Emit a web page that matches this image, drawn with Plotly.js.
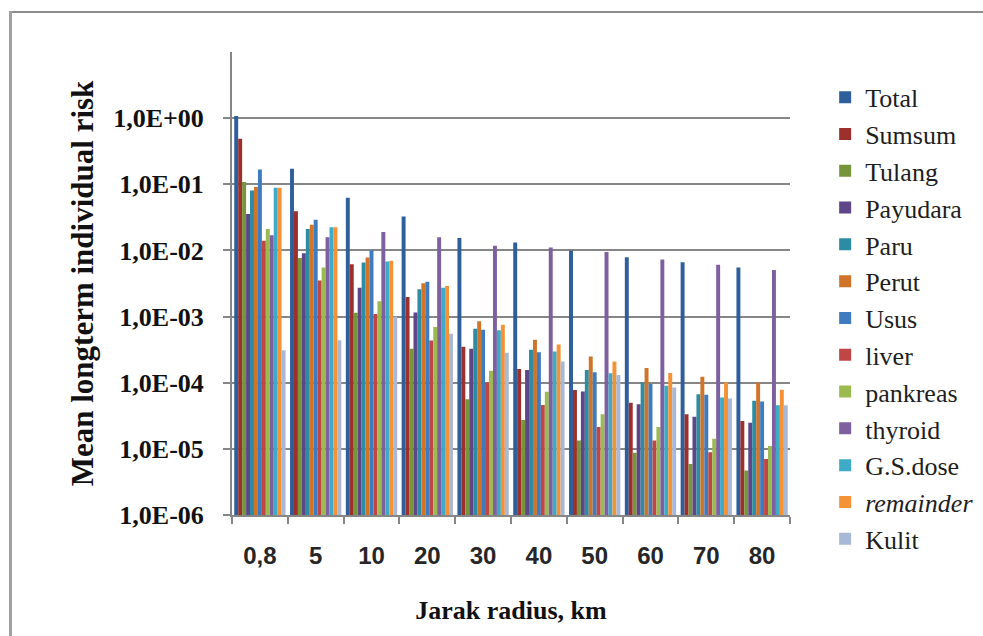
<!DOCTYPE html>
<html>
<head>
<meta charset="utf-8">
<script src="https://cdn.plot.ly/plotly-3.0.1.min.js"></script>
<style>
  html, body { margin: 0; padding: 0; background: #fff; }
  #wrap { position: relative; width: 983px; height: 636px; }
  #chart { position: absolute; left: 0; top: 0; width: 983px; height: 636px; }
  #bt { position: absolute; left: 9px; top: 11px; width: 974px; height: 2px; background: #8c8c8c; }
  #bl { position: absolute; left: 9px; top: 11px; width: 3px; height: 625px; background: #a0a0a0; }
</style>
</head>
<body>
<div id="wrap">
  <div id="chart"></div>
  <div id="bt"></div>
  <div id="bl"></div>
</div>
<script>
const categories = ["0,8", "5", "10", "20", "30", "40", "50", "60", "70", "80"];

const seriesNames = ["Total", "Sumsum", "Tulang", "Payudara", "Paru", "Perut", "Usus",
  "liver", "pankreas", "thyroid", "G.S.dose", "<i>remainder</i>", "Kulit"];

const total     = [1.08, 0.172, 0.0627, 0.0326, 0.0154, 0.0132, 0.0100, 0.0079, 0.0066, 0.0055];
const sumsum    = [0.49, 0.039, 0.0062, 0.00197, 0.000349, 0.000161, 0.0000773, 0.000050, 0.0000334, 0.0000264];
const tulang    = [0.108, 0.00765, 0.00114, 0.000326, 0.0000564, 0.0000273, 0.0000134, 0.0000087, 0.0000059, 0.0000047];
const payudara  = [0.0356, 0.0091, 0.00273, 0.00115, 0.000326, 0.000156, 0.0000738, 0.0000473, 0.0000307, 0.0000249];
const paru      = [0.0805, 0.021, 0.00656, 0.00258, 0.000656, 0.000314, 0.000156, 0.000101, 0.0000671, 0.0000532];
const perut     = [0.0906, 0.0245, 0.00782, 0.00318, 0.00085, 0.000447, 0.000249, 0.000167, 0.000123, 0.000101];
const usus      = [0.168, 0.0292, 0.0101, 0.00337, 0.000634, 0.00029, 0.000144, 0.0000955, 0.0000656, 0.000052];
const liver     = [0.014, 0.0035, 0.00109, 0.000436, 0.000101, 0.0000462, 0.0000214, 0.0000134, 0.0000089, 0.00000705];
const pankreas  = [0.0211, 0.0055, 0.00171, 0.000697, 0.000152, 0.000073, 0.0000334, 0.0000214, 0.0000142, 0.000011];
const thyroid   = [0.0169, 0.0158, 0.019, 0.0158, 0.0118, 0.0111, 0.00944, 0.0073, 0.00605, 0.00508];
const gsdose    = [0.0885, 0.0224, 0.0068, 0.00273, 0.00062, 0.000296, 0.000139, 0.00009, 0.0000598, 0.0000457];
const remainder = [0.0885, 0.0224, 0.00697, 0.0029, 0.000755, 0.000379, 0.000209, 0.00014, 0.000101, 0.0000782];
const kulit     = [0.00031, 0.00044, 0.00099, 0.00055, 0.000283, 0.000209, 0.000131, 0.0000849, 0.0000577, 0.0000457];

const yTickVals = [1e-6, 1e-5, 1e-4, 1e-3, 1e-2, 1e-1, 1];
const yTickText = ["1,0E-06", "1,0E-05", "1,0E-04", "1,0E-03", "1,0E-02", "1,0E-01", "1,0E+00"];

const colors = ["#2F5F9B", "#9B302D", "#77963B", "#5E4689", "#2B8CA4", "#CF7429", "#3F7BBF",
  "#BF4644", "#9BBB50", "#7E5FA0", "#3DAAC8", "#F59235", "#A8B9D8"];

const values = [total, sumsum, tulang, payudara, paru, perut, usus, liver, pankreas, thyroid, gsdose, remainder, kulit];

const traces = values.map((v, i) => ({
  type: "bar",
  name: seriesNames[i],
  x: categories,
  y: v,
  marker: { color: colors[i], line: { width: 0 } },
  hoverinfo: "name+y"
}));

const layout = {
  width: 983,
  height: 636,
  margin: { l: 232, r: 193, t: 52, b: 121, autoexpand: false },
  paper_bgcolor: "#ffffff",
  plot_bgcolor: "#ffffff",
  barmode: "group",
  bargap: 0.08,
  bargroupgap: 0,
  showlegend: true,
  legend: {
    x: 1.063, xanchor: "left",
    y: 0.953, yanchor: "top",
    maxheight: 620,
    font: { family: "Liberation Serif, Times New Roman, serif", size: 26, color: "#1e1e1e" },
    bgcolor: "rgba(0,0,0,0)",
    itemclick: false
  },
  xaxis: {
    type: "category",
    tickson: "boundaries",
    ticks: "outside",
    ticklen: 7,
    tickwidth: 2,
    tickcolor: "#868686",
    showline: true,
    linecolor: "#868686",
    linewidth: 2,
    showgrid: false,
    ticklabelstandoff: 18,
    tickfont: { family: "Liberation Sans, Arial, sans-serif", size: 24, color: "#262626", weight: "bold" },
    title: {
      text: "<b>Jarak radius, km</b>",
      font: { family: "Liberation Serif, Times New Roman, serif", size: 26, color: "#111" },
      standoff: 33
    }
  },
  yaxis: {
    type: "log",
    range: [-6, 1],
    tickvals: yTickVals,
    ticktext: yTickText,
    ticks: "outside",
    ticklen: 7,
    tickwidth: 2,
    tickcolor: "#868686",
    showline: true,
    linecolor: "#868686",
    linewidth: 2,
    showgrid: true,
    gridcolor: "#868686",
    gridwidth: 2,
    zeroline: false,
    ticklabelstandoff: 14,
    tickfont: { family: "Liberation Serif, Times New Roman, serif", size: 26, color: "#111", weight: "bold" },
    title: {
      text: "<b>Mean longterm individual risk</b>",
      font: { family: "Liberation Serif, Times New Roman, serif", size: 31, color: "#111" },
      standoff: 10
    }
  }
};

Plotly.newPlot("chart", traces, layout, { displayModeBar: false, staticPlot: true });
</script>
</body>
</html>
